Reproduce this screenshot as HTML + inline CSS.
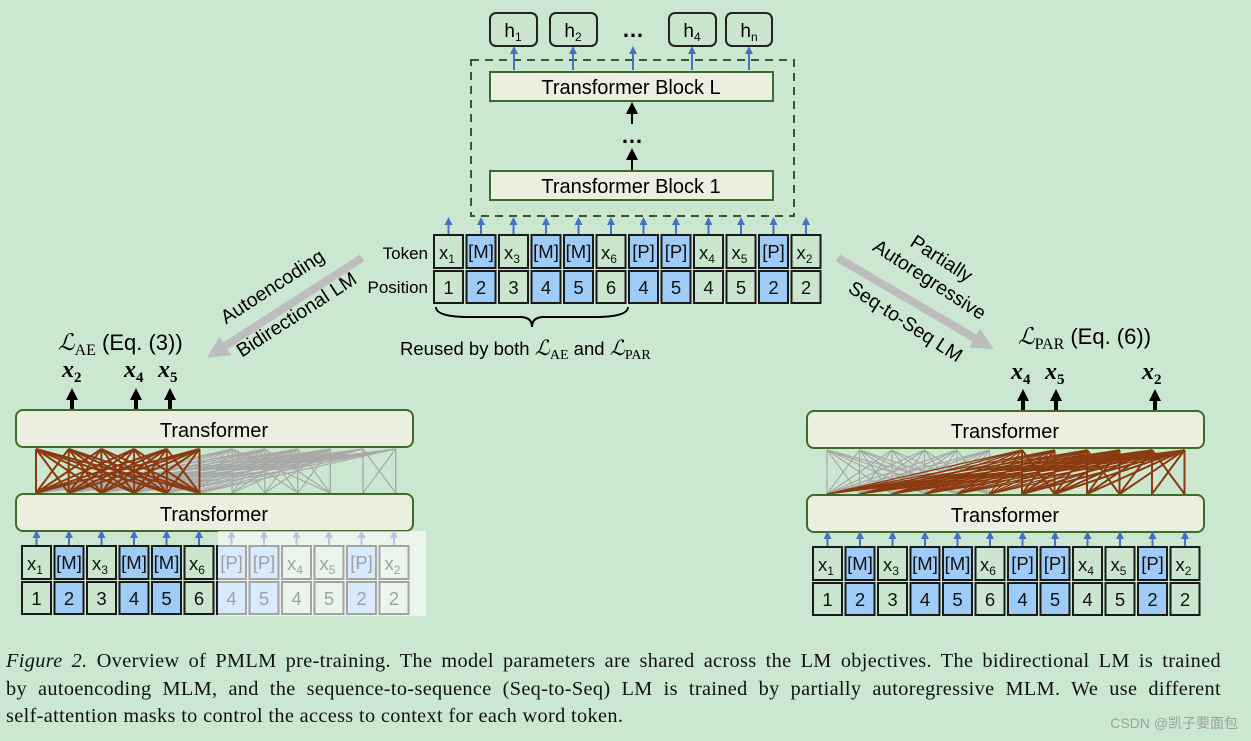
<!DOCTYPE html>
<html><head><meta charset="utf-8"><style>
body{margin:0;background:#cce7d0;}
svg{display:block}
.c text{font-family:"Liberation Sans",sans-serif;font-size:18.5px;text-anchor:middle}
.t{font-family:"Liberation Sans",sans-serif}
.cap{position:absolute;left:6px;top:648px;width:1215px;font-family:"Liberation Serif",serif;font-size:20.3px;letter-spacing:0.35px;line-height:27.7px;color:#111}
.cap div{text-align:justify;text-align-last:justify;white-space:nowrap}
.cap div.l{text-align-last:left}
</style></head><body>
<svg width="1251" height="741" viewBox="0 0 1251 741">
<defs>
<marker id="ba" markerWidth="8" markerHeight="8" refX="4" refY="4" orient="auto" markerUnits="userSpaceOnUse"><path d="M0,0 L8,4 L0,8 z" fill="#4472c4"/></marker>
<marker id="ka" markerWidth="12" markerHeight="12" refX="6" refY="6" orient="auto" markerUnits="userSpaceOnUse"><path d="M0,0 L12,6 L0,12 z" fill="#000"/></marker>
<marker id="ga" markerWidth="22" markerHeight="22" refX="4" refY="11" orient="auto" markerUnits="userSpaceOnUse"><path d="M0,0 L22,11 L0,22 z" fill="#bdbdbd"/></marker>
<g id="cells" class="c" stroke-width="2">
 <g stroke="#1a1a1a">
 <rect x="0" y="0" width="29" height="33" fill="#cbe6cd"/><rect x="32.5" y="0" width="29" height="33" fill="#9fcbf7"/><rect x="65" y="0" width="29" height="33" fill="#cbe6cd"/><rect x="97.5" y="0" width="29" height="33" fill="#9fcbf7"/><rect x="130" y="0" width="29" height="33" fill="#9fcbf7"/><rect x="162.5" y="0" width="29" height="33" fill="#cbe6cd"/><rect x="195" y="0" width="29" height="33" fill="#9fcbf7"/><rect x="227.5" y="0" width="29" height="33" fill="#9fcbf7"/><rect x="260" y="0" width="29" height="33" fill="#cbe6cd"/><rect x="292.5" y="0" width="29" height="33" fill="#cbe6cd"/><rect x="325" y="0" width="29" height="33" fill="#9fcbf7"/><rect x="357.5" y="0" width="29" height="33" fill="#cbe6cd"/>
 <rect x="0" y="36" width="29" height="32" fill="#cbe6cd"/><rect x="32.5" y="36" width="29" height="32" fill="#9fcbf7"/><rect x="65" y="36" width="29" height="32" fill="#cbe6cd"/><rect x="97.5" y="36" width="29" height="32" fill="#9fcbf7"/><rect x="130" y="36" width="29" height="32" fill="#9fcbf7"/><rect x="162.5" y="36" width="29" height="32" fill="#cbe6cd"/><rect x="195" y="36" width="29" height="32" fill="#9fcbf7"/><rect x="227.5" y="36" width="29" height="32" fill="#9fcbf7"/><rect x="260" y="36" width="29" height="32" fill="#cbe6cd"/><rect x="292.5" y="36" width="29" height="32" fill="#cbe6cd"/><rect x="325" y="36" width="29" height="32" fill="#9fcbf7"/><rect x="357.5" y="36" width="29" height="32" fill="#cbe6cd"/>
 </g>
 <g fill="#111">
 <text x="13" y="24">x<tspan font-size="12" dy="4">1</tspan></text>
 <text x="47" y="23">[M]</text>
 <text x="78" y="24">x<tspan font-size="12" dy="4">3</tspan></text>
 <text x="112" y="23">[M]</text>
 <text x="144.5" y="23">[M]</text>
 <text x="175" y="24">x<tspan font-size="12" dy="4">6</tspan></text>
 <text x="209.5" y="23">[P]</text>
 <text x="242" y="23">[P]</text>
 <text x="273" y="24">x<tspan font-size="12" dy="4">4</tspan></text>
 <text x="305.5" y="24">x<tspan font-size="12" dy="4">5</tspan></text>
 <text x="339.5" y="23">[P]</text>
 <text x="370.5" y="24">x<tspan font-size="12" dy="4">2</tspan></text>
 <text x="14.5" y="59">1</text><text x="47" y="59">2</text><text x="79.5" y="59">3</text><text x="112" y="59">4</text><text x="144.5" y="59">5</text><text x="177" y="59">6</text><text x="209.5" y="59">4</text><text x="242" y="59">5</text><text x="274.5" y="59">4</text><text x="307" y="59">5</text><text x="339.5" y="59">2</text><text x="372" y="59">2</text>
 </g>
</g>
</defs>

<rect x="471" y="60" width="323" height="156" fill="none" stroke="#375a2a" stroke-width="2" stroke-dasharray="8,6"/>
<rect x="490" y="72" width="283" height="29" fill="#eaefdf" stroke="#3e6b2c" stroke-width="2"/>
<text x="631" y="94" class="t" font-size="20" text-anchor="middle">Transformer Block L</text>
<rect x="490" y="171" width="283" height="29" fill="#eaefdf" stroke="#3e6b2c" stroke-width="2"/>
<text x="631" y="193" class="t" font-size="20" text-anchor="middle">Transformer Block 1</text>
<g stroke="#000" stroke-width="2"><line x1="632" y1="170" x2="632" y2="154" marker-end="url(#ka)"/><line x1="632" y1="124" x2="632" y2="108" marker-end="url(#ka)"/></g>
<text x="632" y="143" class="t" font-size="22" font-weight="bold" text-anchor="middle">…</text>
<g fill="#cbe6cd" stroke="#222" stroke-width="2">
<rect x="490" y="13" width="47" height="33" rx="6"/><rect x="550" y="13" width="47" height="33" rx="6"/><rect x="669" y="13" width="47" height="33" rx="6"/><rect x="726" y="13" width="46" height="33" rx="6"/></g>
<g class="t" font-size="19" text-anchor="middle">
<text x="513" y="37">h<tspan font-size="12" dy="4">1</tspan></text><text x="573" y="37">h<tspan font-size="12" dy="4">2</tspan></text><text x="633" y="37" font-size="22" font-weight="bold">…</text><text x="692" y="37">h<tspan font-size="12" dy="4">4</tspan></text><text x="749" y="37">h<tspan font-size="12" dy="4">n</tspan></text></g>
<g stroke="#4472c4" stroke-width="2"><line x1="514" y1="70" x2="514" y2="50" marker-end="url(#ba)"/><line x1="573" y1="70" x2="573" y2="50" marker-end="url(#ba)"/><line x1="633" y1="70" x2="633" y2="50" marker-end="url(#ba)"/><line x1="692" y1="70" x2="692" y2="50" marker-end="url(#ba)"/><line x1="749" y1="70" x2="749" y2="50" marker-end="url(#ba)"/></g>
<use href="#cells" x="434" y="235"/>
<g id="upc"></g>
<text x="428" y="259" class="t" font-size="17" text-anchor="end">Token</text>
<text x="428" y="293" class="t" font-size="17" text-anchor="end">Position</text>
<path d="M436,307 Q436,317 470,317 L520,317 Q532,317 532,327 Q532,317 544,317 L594,317 Q628,317 628,307" fill="none" stroke="#000" stroke-width="2"/>
<text x="400" y="355" class="t" font-size="18.5">Reused by both <tspan font-family="Liberation Serif" font-style="italic" font-size="21">ℒ</tspan><tspan font-family="Liberation Serif" font-size="14" dy="4">AE</tspan><tspan dy="-4"> and </tspan><tspan font-family="Liberation Serif" font-style="italic" font-size="21">ℒ</tspan><tspan font-family="Liberation Serif" font-size="14" dy="4">PAR</tspan></text>

<line x1="362" y1="258" x2="222" y2="348" stroke="#bdbdbd" stroke-width="8" marker-end="url(#ga)"/>
<line x1="838" y1="258" x2="978" y2="340" stroke="#bdbdbd" stroke-width="8" marker-end="url(#ga)"/>
<g class="t" font-size="19.5" text-anchor="middle">
<text transform="translate(276,292) rotate(-33)">Autoencoding</text>
<text transform="translate(300,320) rotate(-33)">Bidirectional LM</text>
<text transform="translate(938,264) rotate(33)">Partially</text>
<text transform="translate(926,285) rotate(33)">Autoregressive</text>
<text transform="translate(902,327) rotate(33)">Seq-to-Seq LM</text>
</g>

<text x="58" y="350" font-size="23" font-family="Liberation Serif"><tspan font-style="italic">ℒ</tspan><tspan font-size="16" dy="5">AE</tspan><tspan dy="-5" font-family="Liberation Sans" font-size="22"> (Eq. (3))</tspan></text>
<g font-family="Liberation Serif" font-style="italic" font-weight="bold" font-size="24">
<text x="62" y="377">x<tspan font-size="15" dy="5" font-style="normal">2</tspan></text>
<text x="124" y="377">x<tspan font-size="15" dy="5" font-style="normal">4</tspan></text>
<text x="158" y="377">x<tspan font-size="15" dy="5" font-style="normal">5</tspan></text>
<text x="1011" y="379">x<tspan font-size="15" dy="5" font-style="normal">4</tspan></text>
<text x="1045" y="379">x<tspan font-size="15" dy="5" font-style="normal">5</tspan></text>
<text x="1142" y="379">x<tspan font-size="15" dy="5" font-style="normal">2</tspan></text>
</g>
<text x="1018" y="344" font-size="23" font-family="Liberation Serif"><tspan font-style="italic">ℒ</tspan><tspan font-size="16" dy="5">PAR</tspan><tspan dy="-5" font-family="Liberation Sans" font-size="22"> (Eq. (6))</tspan></text>
<g stroke="#000" stroke-width="4"><line x1="72" y1="409" x2="72" y2="394" marker-end="url(#ka)"/><line x1="136" y1="409" x2="136" y2="394" marker-end="url(#ka)"/><line x1="170" y1="409" x2="170" y2="394" marker-end="url(#ka)"/>
<line x1="1023" y1="410" x2="1023" y2="395" marker-end="url(#ka)"/><line x1="1056" y1="410" x2="1056" y2="395" marker-end="url(#ka)"/><line x1="1155" y1="410" x2="1155" y2="395" marker-end="url(#ka)"/></g>
<g id="lines"></g>
<rect x="16" y="410" width="397" height="37" rx="7" fill="#eaefdf" stroke="#3e6b2c" stroke-width="2"/>
<rect x="16" y="494" width="397" height="37" rx="7" fill="#eaefdf" stroke="#3e6b2c" stroke-width="2"/>
<text x="214" y="437" class="t" font-size="20" text-anchor="middle">Transformer</text>
<text x="214" y="521" class="t" font-size="20" text-anchor="middle">Transformer</text>
<use href="#cells" x="22" y="546"/>
<g id="upl"></g>
<rect x="218" y="531" width="208" height="85" fill="#fff" opacity="0.6"/>
<rect x="807" y="411" width="397" height="37" rx="7" fill="#eaefdf" stroke="#3e6b2c" stroke-width="2"/>
<rect x="807" y="495" width="397" height="37" rx="7" fill="#eaefdf" stroke="#3e6b2c" stroke-width="2"/>
<text x="1005" y="438" class="t" font-size="20" text-anchor="middle">Transformer</text>
<text x="1005" y="522" class="t" font-size="20" text-anchor="middle">Transformer</text>
<use href="#cells" x="813" y="547"/>
<g id="upr"></g>
<text x="1238" y="728" class="t" font-size="14" fill="#9aa39a" text-anchor="end" font-family="Liberation Sans,'Noto Sans CJK SC',sans-serif">CSDN @凯子要面包</text>
</svg>
<div class="cap"><div><i>Figure 2.</i> Overview of PMLM pre-training. The model parameters are shared across the LM objectives. The bidirectional LM is trained</div><div>by autoencoding MLM, and the sequence-to-sequence (Seq-to-Seq) LM is trained by partially autoregressive MLM. We use different</div><div class="l">self-attention masks to control the access to context for each word token.</div></div>
<script>
var NS="http://www.w3.org/2000/svg";
function ln(g,x1,y1,x2,y2,c,w,m){var l=document.createElementNS(NS,"line");l.setAttribute("x1",x1);l.setAttribute("y1",y1);l.setAttribute("x2",x2);l.setAttribute("y2",y2);l.setAttribute("stroke",c);l.setAttribute("stroke-width",w);if(m)l.setAttribute("marker-end",m);document.getElementById(g).appendChild(l);}
for(var k=0;k<12;k++){
 ln("upc",448.5+32.5*k,234,448.5+32.5*k,221,"#4472c4",2,"url(#ba)");
 ln("upl",36.5+32.5*k,545,36.5+32.5*k,534,"#4472c4",2,"url(#ba)");
 ln("upr",827.5+32.5*k,546,827.5+32.5*k,535,"#4472c4",2,"url(#ba)");
}
var Lx=function(k){return 36+32.7*k}, Rx=function(k){return 827+32.5*k};
for(var j=6;j<12;j++){for(var i=0;i<6;i++)ln("lines",Lx(j),449,Lx(i),493,"#a8a8a8",1.2);ln("lines",Lx(j),449,Lx(j),493,"#a8a8a8",1.2);}
var grp=[[6,7,8,9],[10,11]];
grp.forEach(function(g){g.forEach(function(a){g.forEach(function(b){ln("lines",Lx(a),449,Lx(b),493,"#a8a8a8",1.2)})})});
for(var j=0;j<6;j++)for(var i=0;i<6;i++)ln("lines",Lx(j),449,Lx(i),493,"#8b3a10",2);
for(var j=0;j<6;j++)for(var i=0;i<6;i++)ln("lines",Rx(j),450,Rx(i),494,"#a8a8a8",1.2);
var rg={6:[6,7],7:[6,7],8:[6,7,8,9],9:[6,7,8,9],10:[6,7,8,9,10,11],11:[6,7,8,9,10,11]};
for(var j=6;j<12;j++){for(var i=0;i<6;i++)ln("lines",Rx(j),450,Rx(i),494,"#8b3a10",1.3);rg[j].forEach(function(b){ln("lines",Rx(j),450,Rx(b),494,"#8b3a10",2)});}
</script>
</body></html>
